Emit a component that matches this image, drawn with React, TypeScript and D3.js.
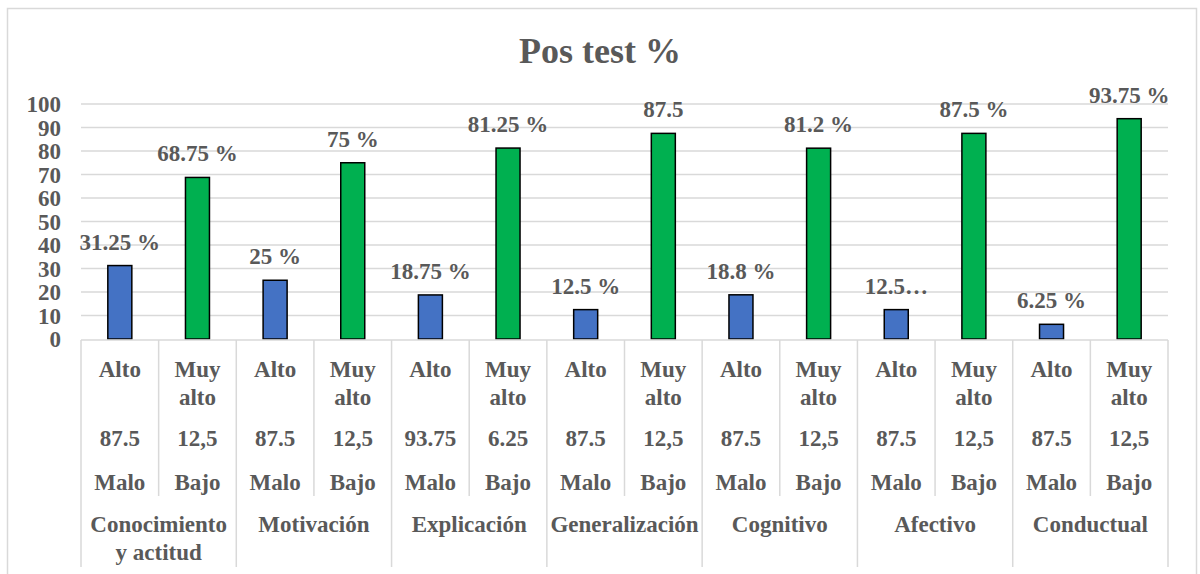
import React, { useEffect, useRef } from 'react';
import * as d3 from 'd3';

const groups = ['Conocimiento y actitud', 'Motivación', 'Explicación', 'Generalización', 'Cognitivo', 'Afectivo', 'Conductual'];
const altoValues = [31.25, 25, 18.75, 12.5, 18.8, 12.5, 6.25];
const muyAltoValues = [68.75, 75, 81.25, 87.5, 81.2, 87.5, 93.75];
const altoLabels = ['31.25 %', '25 %', '18.75 %', '12.5 %', '18.8 %', '12.5…', '6.25 %'];
const muyAltoLabels = ['68.75 %', '75 %', '81.25 %', '87.5', '81.2 %', '87.5 %', '93.75 %'];
const altoSecond = ['87.5', '87.5', '93.75', '87.5', '87.5', '87.5', '87.5'];
const muyAltoSecond = ['12,5', '12,5', '6.25', '12,5', '12,5', '12,5', '12,5'];
const altoThird = ['Malo', 'Malo', 'Malo', 'Malo', 'Malo', 'Malo', 'Malo'];
const muyAltoThird = ['Bajo', 'Bajo', 'Bajo', 'Bajo', 'Bajo', 'Bajo', 'Bajo'];
const levelNames = ['Alto', 'Muy alto'];
const yTicks = [0, 10, 20, 30, 40, 50, 60, 70, 80, 90, 100];

const FONT = '"Liberation Serif", "Times New Roman", serif';
const TXT = '#595959';
const GRID = '#D9D9D9';

export default function App() {
  const ref = useRef<SVGSVGElement>(null);

  useEffect(() => {
    const svg = d3.select(ref.current);
    svg.selectAll('*').remove();

    const left = 81, right = 1168, top = 104, bottom = 339;

    // chart border
    svg.append('rect')
      .attr('x', 7.5).attr('y', 8.5).attr('width', 1189).attr('height', 580)
      .attr('fill', '#fff').attr('stroke', GRID).attr('stroke-width', 1.5);

    // title
    svg.append('text')
      .attr('x', 600).attr('y', 63)
      .attr('text-anchor', 'middle')
      .attr('font-family', FONT).attr('font-weight', 'bold').attr('font-size', 36)
      .attr('fill', TXT)
      .text('Pos test %');

    const y = d3.scaleLinear().domain([0, 100]).range([bottom, top]);

    const slots: { group: number; level: number }[] = [];
    groups.forEach((_, g) => levelNames.forEach((_, l) => slots.push({ group: g, level: l })));
    const x = d3.scaleBand<number>()
      .domain(d3.range(slots.length))
      .range([left, right])
      .padding(0);
    const bw = x.bandwidth();

    // gridlines
    svg.append('g')
      .selectAll('line')
      .data(yTicks.filter(t => t > 0))
      .join('line')
      .attr('x1', left).attr('x2', right)
      .attr('y1', d => y(d)).attr('y2', d => y(d))
      .attr('stroke', GRID).attr('stroke-width', 1.5);

    // y tick labels
    svg.append('g')
      .selectAll('text')
      .data(yTicks)
      .join('text')
      .attr('x', 61)
      .attr('y', d => y(d) + 8)
      .attr('text-anchor', 'end')
      .attr('font-family', FONT).attr('font-weight', 'bold').attr('font-size', 23)
      .attr('fill', TXT)
      .text(d => String(d));

    // bars
    const barW = 24;
    const bars = slots.map((s, i) => ({
      i,
      value: s.level === 0 ? altoValues[s.group] : muyAltoValues[s.group],
      label: s.level === 0 ? altoLabels[s.group] : muyAltoLabels[s.group],
      color: s.level === 0 ? '#4472C4' : '#00B050',
    }));

    svg.append('g')
      .selectAll('rect')
      .data(bars)
      .join('rect')
      .attr('x', d => x(d.i)! + bw / 2 - barW / 2)
      .attr('y', d => y(d.value))
      .attr('width', barW)
      .attr('height', d => bottom - y(d.value))
      .attr('fill', d => d.color)
      .attr('stroke', '#000').attr('stroke-width', 1.5);

    svg.append('g')
      .selectAll('text')
      .data(bars)
      .join('text')
      .attr('x', d => x(d.i)! + bw / 2)
      .attr('y', d => y(d.value) - 16)
      .attr('text-anchor', 'middle')
      .attr('font-family', FONT).attr('font-weight', 'bold').attr('font-size', 23)
      .attr('fill', TXT)
      .text(d => d.label);

    // axis line
    svg.append('line')
      .attr('x1', left).attr('x2', right)
      .attr('y1', bottom + 1).attr('y2', bottom + 1)
      .attr('stroke', GRID).attr('stroke-width', 1.5);

    // separators
    const sepG = svg.append('g').attr('stroke', GRID).attr('stroke-width', 1.5);
    d3.range(slots.length + 1).forEach(i => {
      const xx = i < slots.length ? x(i)! : right;
      const isGroup = i % 2 === 0;
      sepG.append('line')
        .attr('x1', xx).attr('x2', xx)
        .attr('y1', bottom + 1).attr('y2', isGroup ? 567 : 496);
    });

    // category labels
    const lab = svg.append('g')
      .attr('font-family', FONT).attr('font-weight', 'bold').attr('font-size', 23)
      .attr('fill', TXT).attr('text-anchor', 'middle');

    slots.forEach((s, i) => {
      const cx = x(i)! + bw / 2;
      if (s.level === 0) {
        lab.append('text').attr('x', cx).attr('y', 377).text(levelNames[0]);
      } else {
        lab.append('text').attr('x', cx).attr('y', 377).text('Muy');
        lab.append('text').attr('x', cx).attr('y', 405).text('alto');
      }
      lab.append('text').attr('x', cx).attr('y', 446)
        .text(s.level === 0 ? altoSecond[s.group] : muyAltoSecond[s.group]);
      lab.append('text').attr('x', cx).attr('y', 490)
        .text(s.level === 0 ? altoThird[s.group] : muyAltoThird[s.group]);
    });

    groups.forEach((g, gi) => {
      const cx = x(gi * 2)! + bw;
      if (g === 'Conocimiento y actitud') {
        lab.append('text').attr('x', cx).attr('y', 532).text('Conocimiento');
        lab.append('text').attr('x', cx).attr('y', 560).text('y actitud');
      } else {
        lab.append('text').attr('x', cx).attr('y', 532).text(g);
      }
    });
  }, []);

  return (
    <svg
      ref={ref}
      width={1200}
      height={574}
      style={{ position: 'absolute', left: 0, top: 0, background: '#fff' }}
    />
  );
}
